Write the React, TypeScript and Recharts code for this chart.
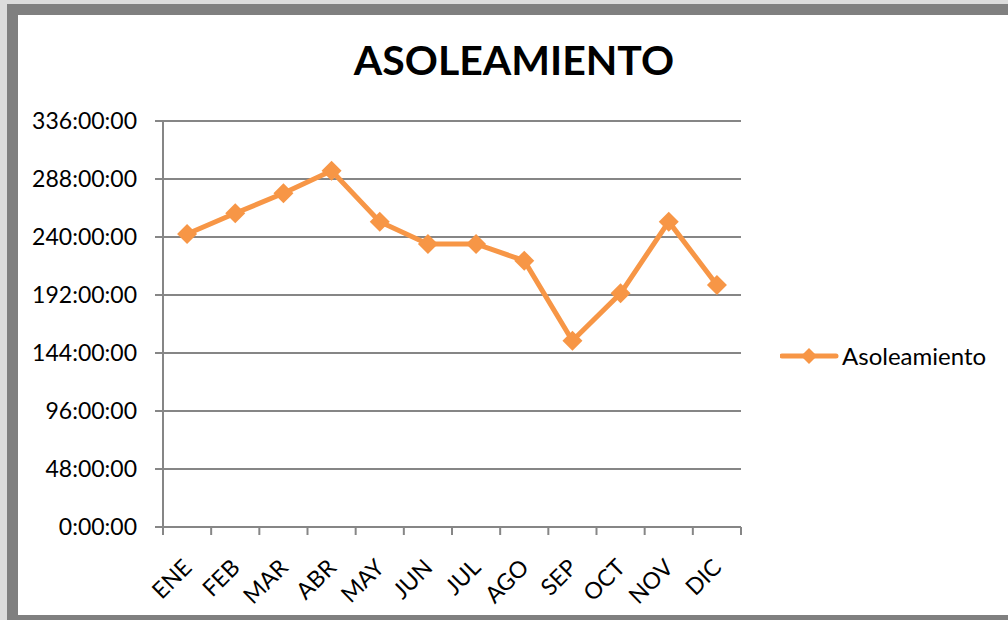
import React from 'react';
import { LineChart, Line, XAxis, YAxis, CartesianGrid, Legend } from 'recharts';

const MONTHS = ['ENE', 'FEB', 'MAR', 'ABR', 'MAY', 'JUN', 'JUL', 'AGO', 'SEP', 'OCT', 'NOV', 'DIC'];
// horas de sol por mes
const HOURS = [242.5, 259.6, 276.2, 294.9, 252.7, 234.2, 234.2, 220.4, 154.2, 193.4, 252.7, 200.3];
const Y_TICKS = [0, 48, 96, 144, 192, 240, 288, 336];
const BOUNDARY_TICKS = [0, 1, 2, 3, 4, 5, 6, 7, 8, 9, 10, 11, 12];
const SERIES_NAME = 'Asoleamiento';

// pos = centre of each month's slot, used only by the boundary-tick axis
const data = MONTHS.map((m, i) => ({ month: m, value: HOURS[i], pos: i + 0.5 }));

const ORANGE = '#F79646';
const GRID = '#868686';
const FONT = 'Lato, "Open Sans", sans-serif';

const Diamond = (props: any) => {
  const { cx, cy, index } = props;
  if (cx == null || cy == null) return <g key={index} />;
  const s = 10;
  return (
    <polygon
      key={index}
      points={`${cx},${cy - s} ${cx + s},${cy} ${cx},${cy + s} ${cx - s},${cy}`}
      fill={ORANGE}
    />
  );
};

const NoLabel = () => <g />;

const MonthTick = (props: any) => {
  const { x, y, payload } = props;
  return (
    <g transform={`translate(${x},${y})`}>
      <text
        x={6}
        y={26}
        textAnchor="end"
        transform="rotate(-45, 6, 26)"
        fill="#000"
        fontSize={23}
        fontFamily={FONT}
      >
        {payload.value}
      </text>
    </g>
  );
};

const LegendContent = (props: any) => {
  const item = props.payload && props.payload[0];
  return (
    <div style={{ display: 'flex', alignItems: 'center', fontFamily: FONT, fontSize: 24, color: '#000' }}>
      <svg width={60} height={24}>
        <line x1={2} y1={12} x2={56} y2={12} stroke={ORANGE} strokeWidth={5} strokeLinecap="round" />
        <polygon points="29,4 37,12 29,20 21,12" fill={ORANGE} />
      </svg>
      <span style={{ marginLeft: 2 }}>{item ? item.value : SERIES_NAME}</span>
    </div>
  );
};

export default function App() {
  return (
    <div style={{ position: 'relative', width: 1008, height: 620, background: '#dcdcdc', overflow: 'hidden' }}>
      <style>{`body{margin:0}`}</style>
      <div
        style={{
          position: 'absolute',
          left: 7,
          top: 4,
          width: 1020,
          height: 600,
          background: '#fff',
          borderTop: '11px solid #808080',
          borderLeft: '11px solid #808080',
          borderBottom: '11px solid #808080',
        }}
      >
        <div
          style={{
            position: 'absolute',
            left: 0,
            width: 992,
            top: 20,
            textAlign: 'center',
            fontFamily: FONT,
            fontWeight: 700,
            fontSize: 41,
            lineHeight: '50px',
            color: '#000',
          }}
        >
          ASOLEAMIENTO
        </div>
        <LineChart
          width={990}
          height={600}
          data={data}
          margin={{ top: 106, right: 267, bottom: 0, left: 0 }}
          style={{ fontFamily: FONT }}
        >
          <CartesianGrid xAxisId="a" horizontal vertical={false} stroke={GRID} strokeWidth={2} />
          <XAxis
            xAxisId="b"
            dataKey="month"
            scale="band"
            axisLine={false}
            tickLine={false}
            height={80}
            interval={0}
            tick={<MonthTick />}
          />
          <XAxis
            xAxisId="a"
            dataKey="pos"
            type="number"
            domain={[0, 12]}
            ticks={BOUNDARY_TICKS}
            tick={<NoLabel />}
            tickSize={8}
            height={8}
            interval={0}
            axisLine={{ stroke: GRID, strokeWidth: 2 }}
            tickLine={{ stroke: GRID, strokeWidth: 2 }}
            allowDataOverflow
          />
          <YAxis
            domain={[0, 336]}
            ticks={Y_TICKS}
            width={145}
            tickSize={8}
            tickMargin={18}
            tickFormatter={(v: number) => `${v}:00:00`}
            axisLine={{ stroke: GRID, strokeWidth: 2 }}
            tickLine={{ stroke: GRID, strokeWidth: 2 }}
            tick={{ fill: '#000', fontSize: 23, fontFamily: FONT }}
            interval={0}
          />
          <Legend
            layout="horizontal"
            verticalAlign="middle"
            align="center"
            content={<LegendContent />}
            wrapperStyle={{ left: 762, top: 326, width: 'auto' }}
          />
          <Line
            xAxisId="b"
            type="linear"
            dataKey="value"
            name={SERIES_NAME}
            stroke={ORANGE}
            strokeWidth={5}
            dot={<Diamond />}
            activeDot={false}
            isAnimationActive={false}
          />
        </LineChart>
      </div>
    </div>
  );
}
